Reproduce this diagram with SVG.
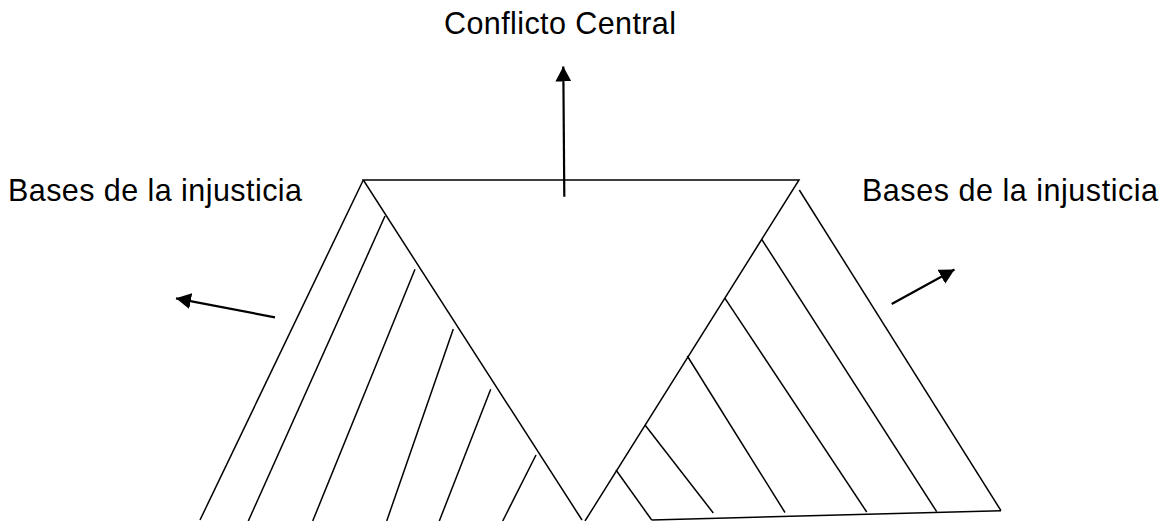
<svg xmlns="http://www.w3.org/2000/svg" width="1163" height="521" viewBox="0 0 1163 521">
  <style>
    .ln { stroke: #000; stroke-width: 1.5; fill: none; stroke-linecap: butt; }
    .ar { stroke: #000; stroke-width: 2.2; fill: none; }
    .lbl { font-family: "Liberation Sans", Arial, sans-serif; font-size: 30.5px; fill: #000; }
  </style>
  <defs>
    <marker id="head" markerUnits="userSpaceOnUse" viewBox="0 0 15 16" refX="15" refY="8" markerWidth="15" markerHeight="16" orient="auto">
      <path d="M0,0 L15,8 L0,16 z" fill="#000"/>
    </marker>
  </defs>
  <rect width="1163" height="521" fill="#fff"/>

  <g id="label-center">
    <text class="lbl" x="444" y="34" textLength="232" lengthAdjust="spacing">Conflicto Central</text>
  </g>
  <g id="label-left">
    <text class="lbl" x="8" y="200.5" textLength="294" lengthAdjust="spacing">Bases de la injusticia</text>
  </g>
  <g id="label-right">
    <text class="lbl" x="862" y="200.5" textLength="296" lengthAdjust="spacing">Bases de la injusticia</text>
  </g>

  <g id="central-triangle">
    <polyline class="ln" points="582,520 363.3,180 799,180 585,521"/>
  </g>

  <g id="left-bases">
    <line class="ln" x1="363.3" y1="180" x2="200" y2="520"/>
    <line class="ln" x1="385" y1="216" x2="248.3" y2="521"/>
    <line class="ln" x1="415" y1="269.3" x2="312.7" y2="521"/>
    <line class="ln" x1="453.3" y1="329" x2="386.7" y2="521"/>
    <line class="ln" x1="490.7" y1="389.3" x2="439.3" y2="521"/>
    <line class="ln" x1="536" y1="455" x2="502.7" y2="521"/>
  </g>

  <g id="right-bases">
    <line class="ln" x1="799.3" y1="190" x2="1001" y2="510.7"/>
    <line class="ln" x1="651.7" y1="520" x2="1001" y2="510.7"/>
    <line class="ln" x1="761.7" y1="239.3" x2="936.7" y2="511.7"/>
    <line class="ln" x1="725" y1="298.3" x2="866.7" y2="512"/>
    <line class="ln" x1="687.3" y1="356" x2="785" y2="512.5"/>
    <line class="ln" x1="645" y1="425" x2="713.3" y2="513"/>
    <line class="ln" x1="616" y1="470" x2="651.7" y2="520"/>
  </g>

  <g id="connectors">
    <line class="ar" x1="564.3" y1="196.7" x2="563.3" y2="66.5" marker-end="url(#head)"/>
    <line class="ar" x1="275" y1="317.3" x2="176" y2="298.3" marker-end="url(#head)"/>
    <line class="ar" x1="891.7" y1="304" x2="954.5" y2="269.5" marker-end="url(#head)"/>
  </g>
</svg>
